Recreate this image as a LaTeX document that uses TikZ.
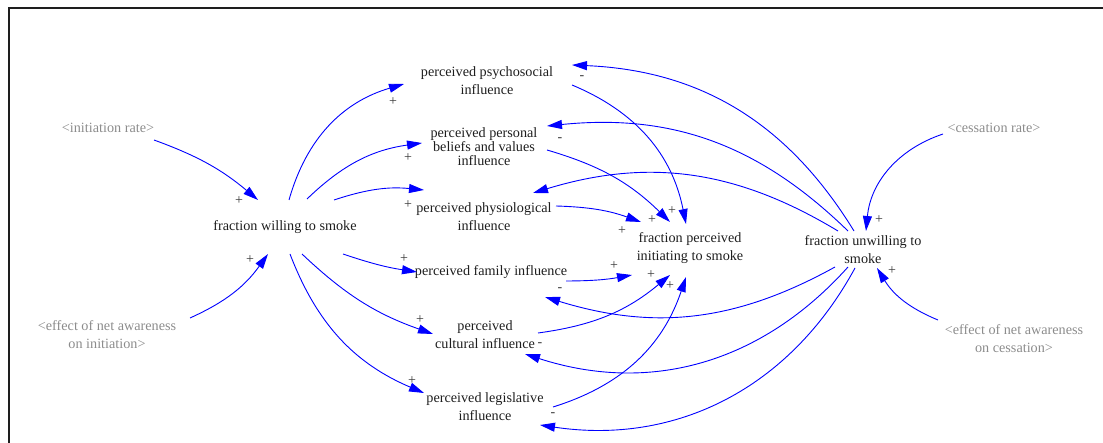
\documentclass[tikz,border=0pt]{standalone}
\usepackage{fontspec}
\setmainfont{Liberation Serif}
\usetikzlibrary{arrows.meta}
\definecolor{txt}{HTML}{1E1E1E}
\definecolor{shade}{HTML}{8C8C8C}
\definecolor{sgn}{HTML}{383838}
\definecolor{linkblue}{HTML}{0000FF}
\begin{document}
\begin{tikzpicture}[x=1pt,y=-1pt,
  var/.style={align=center, text=txt, inner sep=0pt,
    font=\fontsize{14.2}{18}\selectfont},
  tight/.style={var, font=\fontsize{14.2}{14}\selectfont},
  shadowvar/.style={var, text=shade},
  sign/.style={text=sgn, inner sep=0pt, font=\fontsize{14}{14}\selectfont},
  link/.style={draw=linkblue, line width=0.9pt,
    -{Triangle[length=15pt,width=9pt,fill=linkblue]}}]
\useasboundingbox (0,0) rectangle (1103,443);

% frame
\draw[txt, line width=2.3pt] (9,450) -- (9,8) -- (1110,8);

% variables
\node[var] (psy) at (487,81) {perceived psychosocial\\influence};
\node[tight] (bel) at (484,147) {perceived personal\\beliefs and values\\influence};
\node[var] (phy) at (484,217) {perceived physiological\\influence};
\node[var] (fam) at (491,272) {perceived family influence};
\node[var] (cul) at (485,335) {perceived\\cultural influence};
\node[var] (leg) at (485,407) {perceived legislative\\influence};
\node[var] (fp)  at (690,248) {fraction perceived\\initiating to smoke};
\node[var] (fw)  at (285,227) {fraction willing to smoke};
\node[var] (fu)  at (863,250) {fraction unwilling to\\smoke};

% shadow variables
\node[shadowvar] (ir) at (108,128) {<initiation rate>};
\node[shadowvar] (cr) at (994,128) {<cessation rate>};
\node[shadowvar] (ei) at (107,335) {<effect of net awareness\\on initiation>};
\node[shadowvar] (ec) at (1014,339) {<effect of net awareness\\on cessation>};

% inputs to fraction willing to smoke
\draw[link] ([shift={(46,12)}]ir.center) to[bend left=10] ([shift={(-27,-27)}]fw.center);
\draw[link] ([shift={(83,-17)}]ei.center) to[bend right=15] ([shift={(-17,27)}]fw.center);

% fraction willing to smoke to the perceived influences
\draw[link] ([shift={(4,-27)}]fw.center) to[bend left=29] ([shift={(-83,3)}]psy.center);
\draw[link] ([shift={(22,-28)}]fw.center) to[bend left=18] ([shift={(-62,-4)}]bel.center);
\draw[link] ([shift={(49,-27)}]fw.center) to[bend left=12] ([shift={(-60,-27)}]phy.center);
\draw[link] ([shift={(58,27)}]fw.center) to[bend right=5] ([shift={(-74,0)}]fam.center);
\draw[link] ([shift={(17,27)}]fw.center) to[bend right=12] ([shift={(-52,-1)}]cul.center);
\draw[link] ([shift={(5,27)}]fw.center) to[bend right=23] ([shift={(-61,-14)}]leg.center);

% perceived influences to fraction perceived initiating
\draw[link] ([shift={(85,4)}]psy.center) to[bend left=28] ([shift={(-4,-24)}]fp.center);
\draw[link] ([shift={(63,3)}]bel.center) to[bend left=14] ([shift={(-20,-26)}]fp.center);
\draw[link] ([shift={(72,-11)}]phy.center) to[bend left=9] ([shift={(-49,-26)}]fp.center);
\draw[link] ([shift={(75,9)}]fam.center) to[bend right=5] ([shift={(-58,27)}]fp.center);
\draw[link] ([shift={(53,-2)}]cul.center) to[bend right=16] ([shift={(-20,27)}]fp.center);
\draw[link] ([shift={(68,0)}]leg.center) to[bend right=27] ([shift={(-4,29)}]fp.center);

% fraction unwilling to smoke to the perceived influences
\draw[link] ([shift={(-9,-19)}]fu.center) to[bend right=28] ([shift={(85,-16)}]psy.center);
\draw[link] ([shift={(-15,-19)}]fu.center) to[bend right=25] ([shift={(63,-21)}]bel.center);
\draw[link] ([shift={(-25,-19)}]fu.center) to[bend right=24] ([shift={(49,-24)}]phy.center);
\draw[link] ([shift={(-28,17)}]fu.center) to[bend left=23] ([shift={(54,25)}]fam.center);
\draw[link] ([shift={(-15,17)}]fu.center) to[bend left=33] ([shift={(40,19)}]cul.center);
\draw[link] ([shift={(-8,18)}]fu.center) to[bend left=35] ([shift={(55,18)}]leg.center);

% inputs to fraction unwilling to smoke
\draw[link] ([shift={(-51,6)}]cr.center) to[bend right=33] ([shift={(3,-19)}]fu.center);
\draw[link] ([shift={(-76,-19)}]ec.center) to[bend left=18] ([shift={(14,18)}]fu.center);

% link polarities
\node[sign] (p1)  at (239,201) {+};
\node[sign] (p2)  at (250,260) {+};
\node[sign] (p3)  at (393,102) {+};
\node[sign] (p4)  at (408,158) {+};
\node[sign] (p5)  at (408,205) {+};
\node[sign] (p6)  at (404,259) {+};
\node[sign] (p7)  at (420,320) {+};
\node[sign] (p8)  at (412,381) {+};
\node[sign] (p9)  at (672,211) {+};
\node[sign] (p10) at (652,220) {+};
\node[sign] (p11) at (622,231) {+};
\node[sign] (p12) at (614,266) {+};
\node[sign] (p13) at (651,275) {+};
\node[sign] (p14) at (670,286) {+};
\node[sign] (p15) at (879,220) {+};
\node[sign] (p16) at (892,271) {+};
\node[sign] (n1)  at (582,78)  {-};
\node[sign] (n2)  at (560,140) {-};
\node[sign] (n3)  at (560,290) {-};
\node[sign] (n4)  at (540,345) {-};
\node[sign] (n5)  at (553,415) {-};
\end{tikzpicture}
\end{document}
